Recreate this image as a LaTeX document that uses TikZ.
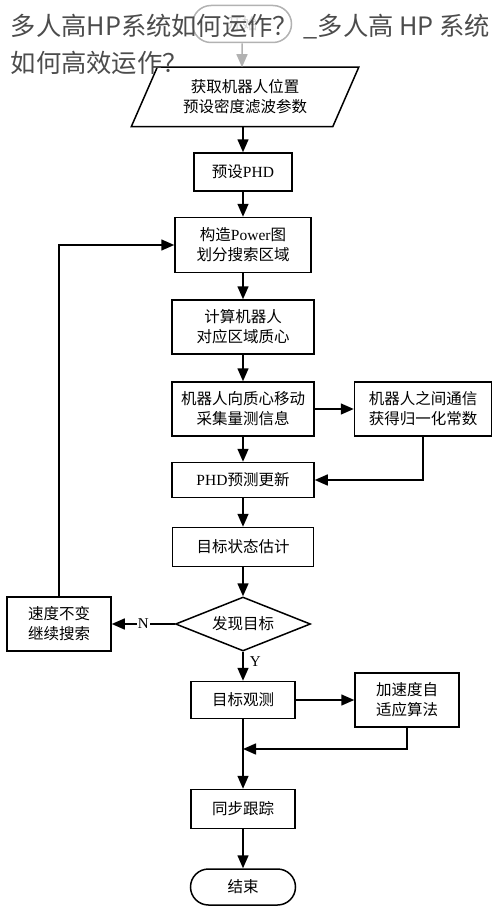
\documentclass[tikz,border=0pt]{standalone}
\usepackage{fontspec}
\setmainfont{Liberation Serif}
\newfontfamily\cjk{Noto Sans CJK SC}
\usetikzlibrary{arrows.meta,shapes.geometric,shapes.misc}
\newcommand{\lat}[1]{{\rmfamily #1}}

\begin{document}
\begin{tikzpicture}[x=1pt, y=-1pt, line width=1.5pt, text centered,
	every node/.style={font=\cjk\fontsize{15.5}{20}\selectfont, align=center, inner sep=0pt},
	stepbox/.style={draw, rectangle},
	yesno/.style={font=\rmfamily\fontsize{15}{15}\selectfont},
	>={Triangle[length=13pt, width=11pt]}]
	\useasboundingbox (0,0) rectangle (500,915);
	\node[draw=gray!60, rounded rectangle, minimum width=99pt, minimum height=37pt, text=gray!35] (start) at (242,24) {开始};
	\node[minimum width=200pt, minimum height=58pt] (param) at (245,97) {获取机器人位置\\预设密度滤波参数};
	\draw ([xshift=13pt]param.north west) -- ([xshift=13pt]param.north east) -- ([xshift=-13pt]param.south east) -- ([xshift=-13pt]param.south west) -- cycle;
	\node[stepbox, minimum width=98pt, minimum height=38pt] (phd) at (243,172) {预设\lat{PHD}};
	\node[stepbox, minimum width=136pt, minimum height=55pt] (power) at (243,245) {构造\lat{Power}图\\划分搜索区域};
	\node[stepbox, minimum width=142pt, minimum height=54pt] (centroid) at (243,327) {计算机器人\\对应区域质心};
	\node[stepbox, minimum width=142pt, minimum height=54pt] (move) at (243,409) {机器人向质心移动\\采集量测信息};
	\node[stepbox, minimum width=137pt, minimum height=54pt] (comm) at (423,409) {机器人之间通信\\获得归一化常数};
	\node[stepbox, minimum width=142pt, minimum height=35pt] (update) at (243,480) {\lat{PHD}预测更新};
	\node[stepbox, minimum width=141pt, minimum height=39pt] (estimate) at (243,547) {目标状态估计};
	\node[draw, diamond, shape aspect=2.5, minimum width=135pt, minimum height=54pt] (detect) at (243,624) {发现目标};
	\node[stepbox, minimum width=104pt, minimum height=54pt] (keep) at (59,624) {速度不变\\继续搜索};
	\node[stepbox, minimum width=104pt, minimum height=37pt] (observe) at (243,700) {目标观测};
	\node[stepbox, minimum width=104pt, minimum height=54pt] (accel) at (407,700) {加速度自\\适应算法};
	\node[stepbox, minimum width=104pt, minimum height=39pt] (sync) at (243,809) {同步跟踪};
	\node[draw, rounded rectangle, minimum width=105pt, minimum height=36pt] (finish) at (243,887) {结束};
	\coordinate (merge) at (243,749);
	% main column
	\draw[->, draw=gray!60] (start) -- (start |- param.north);
	\draw[->] (param.south -| phd) -- (phd);
	\draw[->] (phd) -- (power);
	\draw[->] (power) -- (centroid);
	\draw[->] (centroid) -- (move);
	\draw[->] (move) -- (update);
	\draw[->] (update) -- (estimate);
	\draw[->] (estimate) -- (detect);
	\draw[->] (detect) -- node[yesno, right=6pt, pos=0.35] {Y} (observe);
	\draw[->] (observe) -- (sync);
	\draw[->] (sync) -- (finish);
	% side branches
	\draw[->] (move) -- (comm);
	\draw[->] (comm) |- (update);
	\draw[->] (detect) -- node[yesno, fill=white, inner sep=1pt] {N} (keep);
	\draw[->] (keep) |- (power);
	\draw[->] (observe) -- (accel);
	\draw[->] (accel) |- (merge);
	% page title
	\node[anchor=base west, font=\cjk\fontsize{25.3}{25}\selectfont, text=black!70] (title) at (10,36) {多人高HP系统如何运作？ \_多人高 HP 系统};
	\node[anchor=base west, font=\cjk\fontsize{25.3}{25}\selectfont, text=black!70] (subtitle) at (10,73) {如何高效运作？};
\end{tikzpicture}
\end{document}
